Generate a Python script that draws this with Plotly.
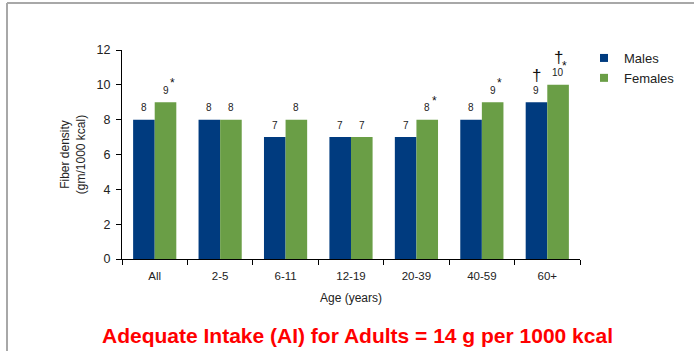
import plotly.graph_objects as go

# Fiber density by age group and sex
age_groups = ["All", "2-5", "6-11", "12-19", "20-39", "40-59", "60+"]
males = [8, 8, 7, 7, 7, 8, 9]
females = [9, 8, 8, 7, 8, 9, 10]
male_dagger = [False, False, False, False, False, False, True]
female_dagger = [False, False, False, False, False, False, True]
female_star = [True, False, False, False, True, True, True]
y_ticks = [0, 2, 4, 6, 8, 10, 12]

MALE_COLOR = "#003B7F"
FEMALE_COLOR = "#6A9E46"
FONT = "Liberation Sans, Arial, sans-serif"

W, H = 694, 351
L, R, T, B = 122, 114, 50, 92
plot_w = W - L - R
plot_h = H - T - B


def px_x(px):
    return (px - L) / plot_w


def px_y(py):
    return (H - B - py) / plot_h


fig = go.Figure()
fig.add_trace(go.Bar(x=age_groups, y=males, name="Males", marker_color=MALE_COLOR,
                     marker_line_width=0, showlegend=False))
fig.add_trace(go.Bar(x=age_groups, y=females, name="Females", marker_color=FEMALE_COLOR,
                     marker_line_width=0, showlegend=False))

# Legend entries with small square swatches
for name, color in [("Males", MALE_COLOR), ("Females", FEMALE_COLOR)]:
    fig.add_trace(go.Scatter(x=[None], y=[None], mode="markers", name=name,
                             marker=dict(symbol="square", size=8, color=color)))

bargap = 0.34
cat_px = plot_w / len(age_groups)
bar_off = cat_px * (1 - bargap) / 4  # centre offset of each bar in pixels

annotations = []
for i, cat in enumerate(age_groups):
    for vals, sign, dagger in [(males, -1, male_dagger), (females, 1, female_dagger)]:
        v = vals[i]
        annotations.append(dict(x=cat, y=v, text=str(v), showarrow=False,
                                xshift=sign * bar_off, yshift=12,
                                font=dict(size=10, color="#222", family=FONT)))
        if dagger[i]:
            annotations.append(dict(x=cat, y=v, text="†", showarrow=False,
                                    xshift=sign * bar_off, yshift=27,
                                    font=dict(size=17, color="#111", family=FONT)))
    if female_star[i]:
        dx = 6 if female_dagger[i] else 7
        annotations.append(dict(x=cat, y=females[i], text="*", showarrow=False,
                                xshift=bar_off + dx, yshift=19,
                                font=dict(size=12, color="#111", family=FONT)))

# Headline below the chart
annotations.append(dict(x=px_x(357), y=px_y(335), xref="paper", yref="paper",
                        xanchor="center", yanchor="middle", showarrow=False,
                        text="<b>Adequate Intake (AI) for Adults = 14 g per 1000 kcal</b>",
                        font=dict(size=21, color="#FF0000", family=FONT)))

shapes = [
    dict(type="line", xref="paper", yref="paper", x0=px_x(7), x1=px_x(7),
         y0=px_y(3), y1=px_y(H + 5), line=dict(color="#A8A8A8", width=2)),
    dict(type="line", xref="paper", yref="paper", x0=px_x(7), x1=px_x(W + 5),
         y0=px_y(3), y1=px_y(3), line=dict(color="#A8A8A8", width=2)),
]

fig.update_layout(
    width=W, height=H,
    margin=dict(l=L, r=R, t=T, b=B),
    paper_bgcolor="white", plot_bgcolor="white",
    barmode="group", bargap=bargap, bargroupgap=0,
    font=dict(family=FONT, size=11, color="#222"),
    legend=dict(x=px_x(584), y=px_y(43), xanchor="left", yanchor="top",
                font=dict(size=13, color="#222", family=FONT),
                itemwidth=30, tracegroupgap=0, bgcolor="rgba(0,0,0,0)"),
    annotations=annotations,
    shapes=shapes,
    xaxis=dict(
        type="category", showline=True, linecolor="black", linewidth=1,
        ticks="outside", tickson="boundaries", ticklen=5, tickcolor="black",
        tickfont=dict(size=11.5, color="#222"), showgrid=False, ticklabelstandoff=6,
        title=dict(text="Age (years)", font=dict(size=12, color="#222"), standoff=12),
    ),
    yaxis=dict(
        range=[0, 12], tickvals=y_ticks, showline=True, linecolor="black",
        linewidth=1, ticks="outside", ticklen=5, tickcolor="black",
        tickfont=dict(size=12.5, color="#222"), showgrid=False, zeroline=False,
        ticklabelstandoff=3,
        title=dict(text="Fiber density<br>(gm/1000 kcal)", font=dict(size=12, color="#222"),
                   standoff=8),
    ),
)

fig.write_html("out.html")
